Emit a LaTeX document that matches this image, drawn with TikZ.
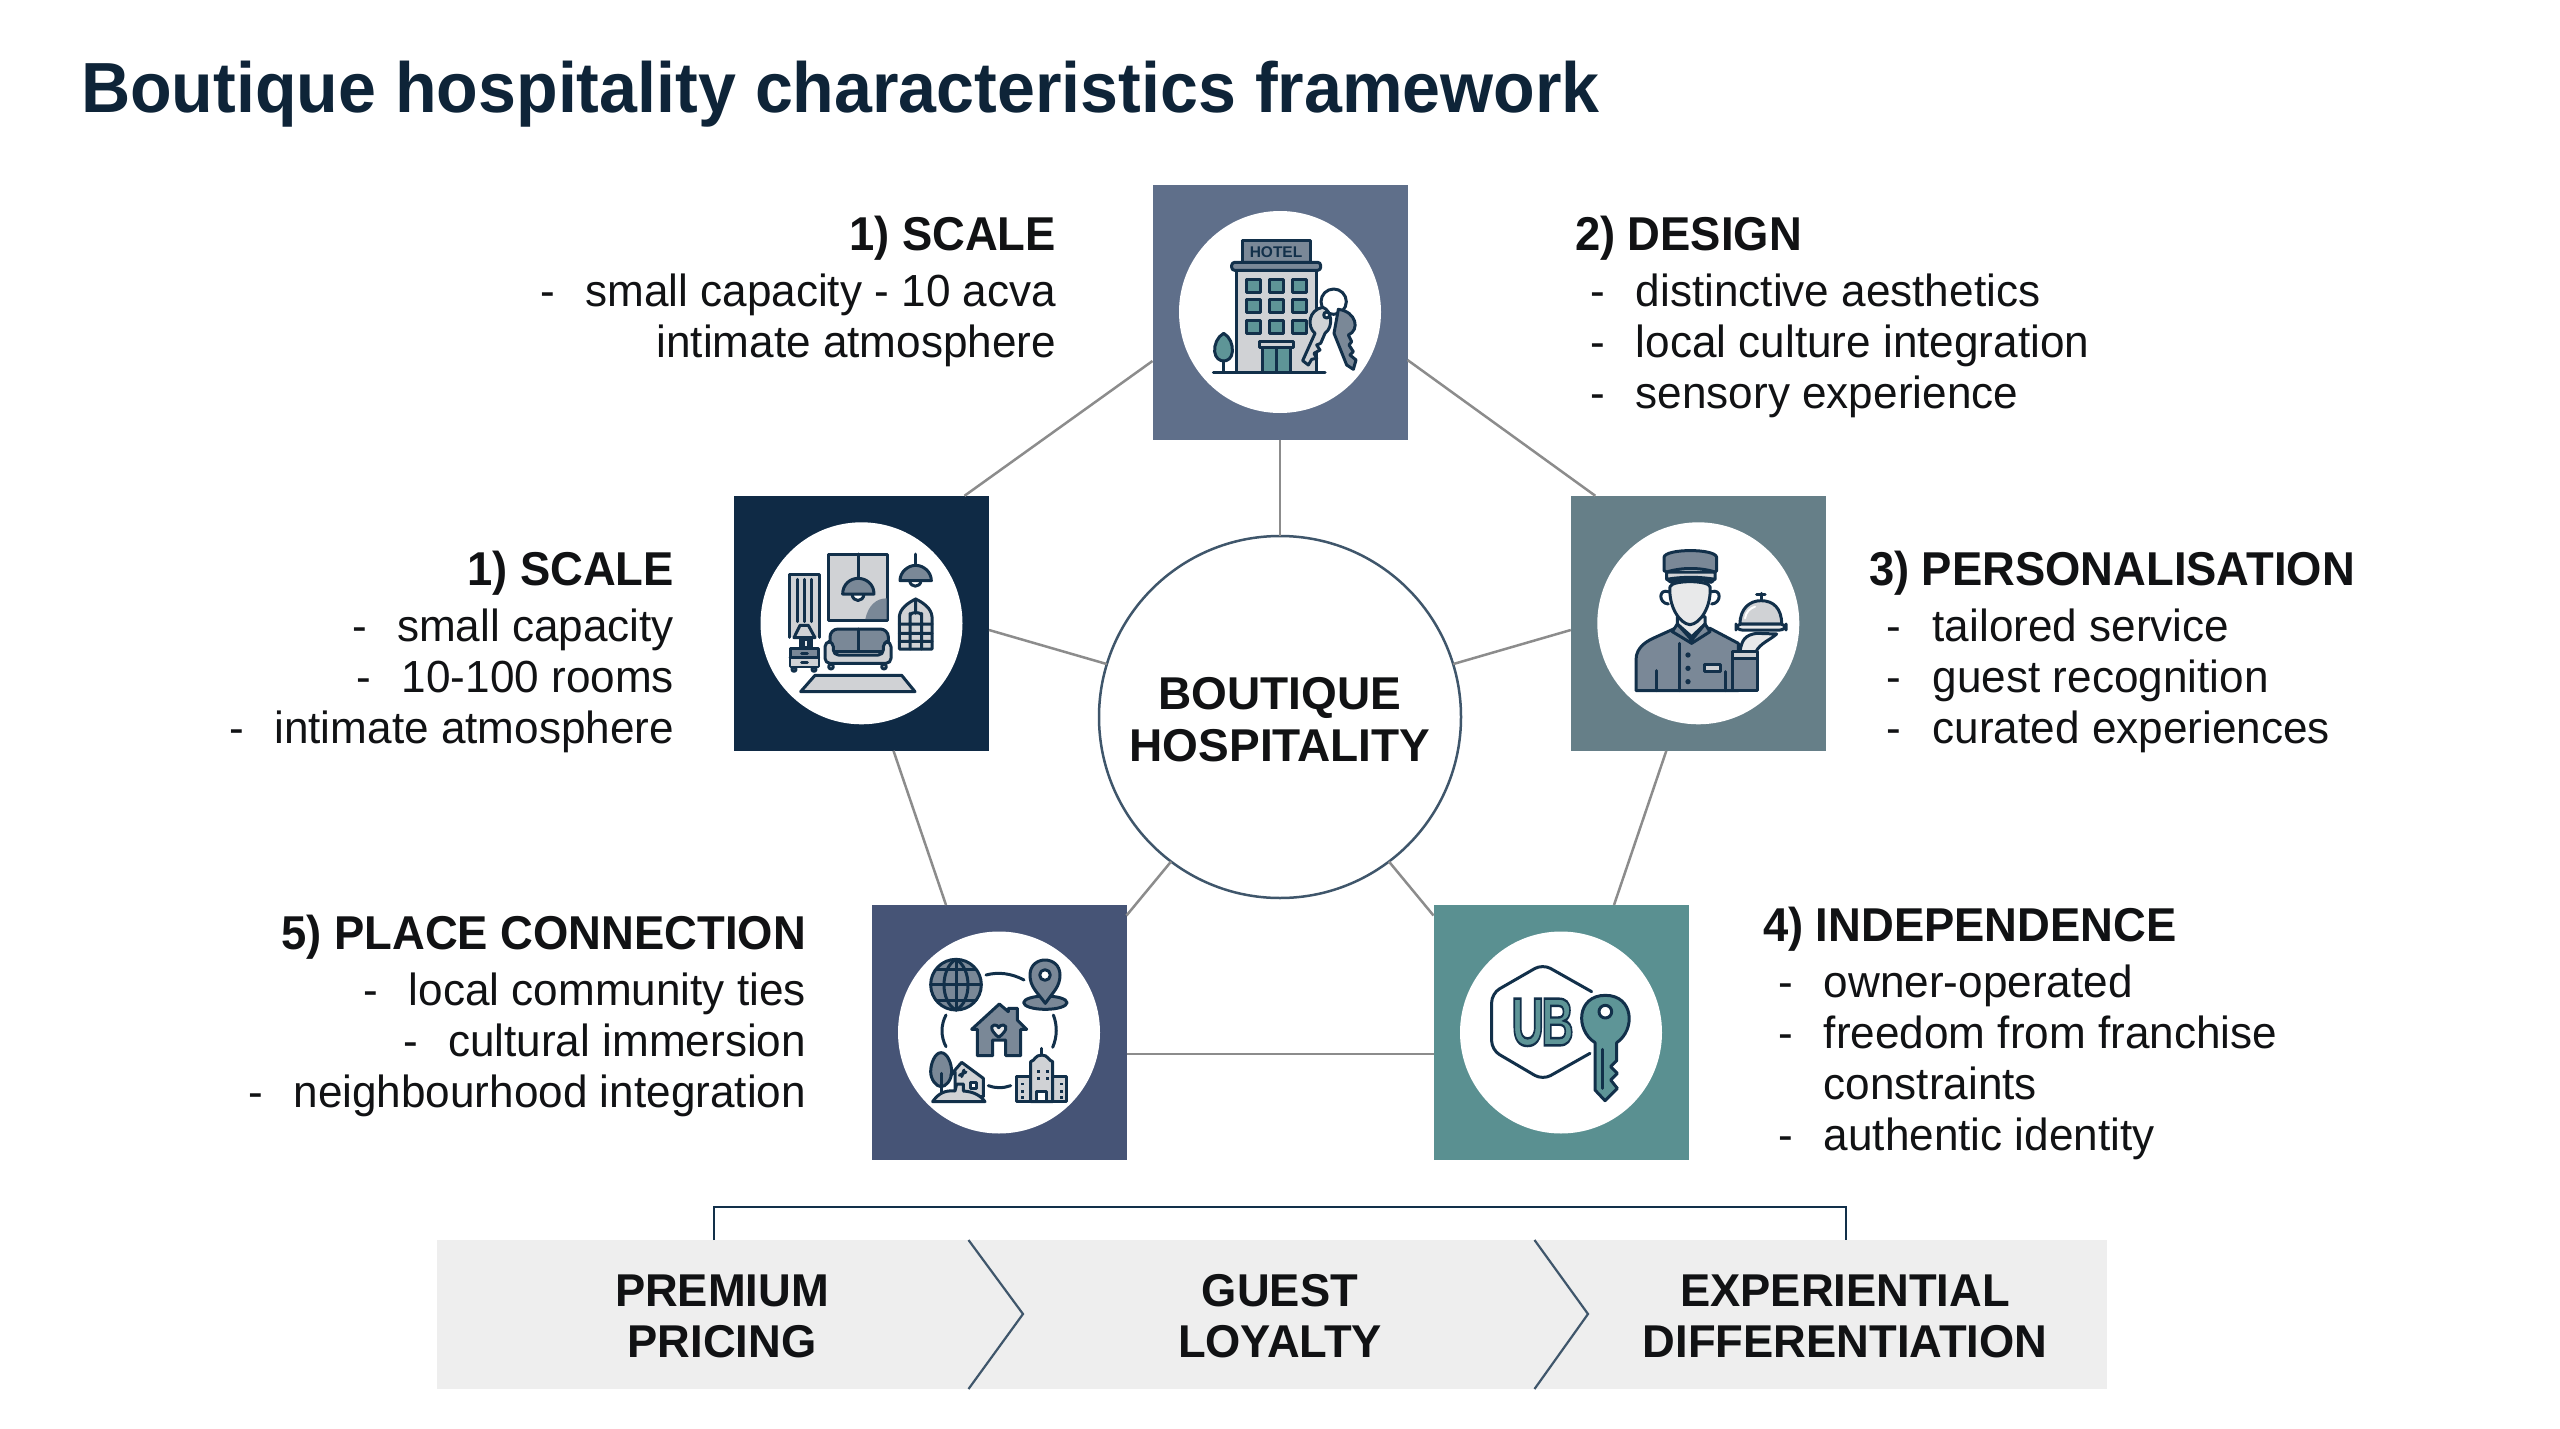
\documentclass[tikz,border=0pt]{standalone}
\usepackage{graphicx}
\usepackage{fontspec}
\setmainfont{Liberation Sans}
\definecolor{navy}{HTML}{0E2438}
\definecolor{inktext}{HTML}{111214}
\definecolor{icdark}{HTML}{12304A}
\definecolor{icslate}{HTML}{7A8897}
\definecolor{icgrey}{HTML}{D0D2D5}
\definecolor{icteal}{HTML}{5E9597}
\definecolor{icpale}{HTML}{E8E9EA}
\definecolor{linkgrey}{HTML}{8C8C8C}
\definecolor{hubline}{HTML}{3F566B}
\definecolor{stripbg}{HTML}{EEEEEE}
\definecolor{sqscale}{HTML}{5F6F8A}
\definecolor{sqroom}{HTML}{0F2A45}
\definecolor{sqperson}{HTML}{667F88}
\definecolor{sqplace}{HTML}{465476}
\definecolor{sqindep}{HTML}{5A9091}
\newcommand{\rdash}{\makebox[62pt][l]{\hspace{16pt}-}}
\newcommand{\pdash}{\makebox[65pt][l]{\hspace{18pt}-}}
\newcommand{\ldash}{-\hspace{31pt}}
\tikzset{
  pillar/.style={rectangle,inner sep=0,outer sep=0,minimum size=255pt,fill=#1},
  disc/.style={circle,inner sep=0,outer sep=0,minimum size=202pt,fill=white},
  hubnode/.style={circle,inner sep=0,outer sep=0,minimum size=362pt,fill=white,draw=hubline,line width=2.5pt,
    align=center,text=inktext,font=\fontsize{46}{52}\selectfont\bfseries},
  link/.style={draw=linkgrey,line width=2.5pt},
  blockr/.style={inner sep=0,outer sep=0,align=right,anchor=north east,xscale=0.98,text=inktext,font=\fontsize{45}{51}\selectfont},
  blockl/.style={inner sep=0,outer sep=0,align=left,anchor=north west,xscale=0.98,text=inktext,font=\fontsize{45}{51}\selectfont},
  striplabel/.style={inner sep=0,outer sep=0,align=center,xscale=0.985,text=inktext,font=\fontsize{46}{51}\selectfont\bfseries},
  ic/.style={draw=icdark,line width=3pt,line join=round,line cap=round},
  crop/.style={x=0.33333pt,y=-0.33333pt},
}
\newcommand{\hd}[1]{\scalebox{0.975}[1]{\fontsize{47.5}{51}\selectfont\bfseries #1}}
\begin{document}
\begin{tikzpicture}[x=1pt,y=-1pt]
\useasboundingbox[fill=white] (0,0) rectangle (2560,1429);

\node[inner sep=0,outer sep=0,anchor=base west,xscale=0.96,text=navy,font=\fontsize{71}{80}\selectfont\bfseries] (title) at (81,113) {Boutique hospitality characteristics framework};

% pillars and the central hub
\node[pillar=sqscale] (top) at (1280,312) {};
\node[pillar=sqroom] (left) at (861.5,623.3) {};
\node[pillar=sqperson] (right) at (1698.3,623.3) {};
\node[pillar=sqplace] (place) at (999,1032.5) {};
\node[pillar=sqindep] (indep) at (1561,1032.5) {};
\node[hubnode] (hub) at (1280,717) {\rule{0pt}{37pt}BOUTIQUE\\HOSPITALITY};

% ring around the hub and spokes into it
\draw[link] ([yshift=-49pt]top.west) -- ([xshift=103pt]left.north);
\draw[link] ([yshift=-48pt]top.east) -- ([xshift=-103pt]right.north);
\draw[link] ([xshift=32pt]left.south) -- ([xshift=-53pt]place.north);
\draw[link] ([xshift=-32pt]right.south) -- ([xshift=53pt]indep.north);
\draw[link] ([yshift=-21.5pt]place.east) -- ([yshift=-21.5pt]indep.west);
\draw[link] (top.south) -- (hub.north);
\draw[link] ([yshift=-6.7pt]left.east) -- (hub.163);
\draw[link] ([yshift=-6.7pt]right.west) -- (hub.17);
\draw[link] ([yshift=117pt]place.east) -- (hub.233);
\draw[link] ([yshift=117pt]indep.west) -- (hub.307);

% white discs inside the pillars
\node[disc] (topdisc) at (top.center) {};
\node[disc] (leftdisc) at (left.center) {};
\node[disc] (rightdisc) at (right.center) {};
\node[disc] (placedisc) at (place.center) {};
\node[disc] (indepdisc) at (indep.center) {};

% hotel with keys
\begin{scope}[shift={(1130,170)},crop]
  \draw[ic] (250,606) -- (585,606);
  \draw[ic,fill=icteal] (281,490) .. controls (262,500) and (252,525) .. (254,545) .. controls (256,565) and (270,573) .. (281,573) .. controls (292,573) and (306,565) .. (307,545) .. controls (309,525) and (300,500) .. (281,490) -- cycle;
  \draw[ic] (281,573) -- (281,606);
  \draw[ic,fill=icslate] (337,211) rectangle (540,276);
  \draw[ic,fill=icgrey] (318,300) rectangle (560,606);
  \draw[ic,fill=icslate,rounded corners=3pt] (305,277) rectangle (572,301);
  \foreach \wy in {327,388,451} \foreach \wx in {348,418,488}
    \draw[ic,fill=icteal] (\wx,\wy) rectangle ++(42,40);
  \draw[ic,fill=icteal] (396,533) rectangle (482,606);
  \draw[ic] (438,533) -- (438,606);
  \draw[ic,fill=icgrey] (388,515) rectangle (490,533);
  \draw[ic] (611,395) circle [radius=38];
  \draw[ic,fill=icslate] (625,418) .. controls (680,425) and (690,480) .. (655,495) -- (665,515) -- (657,525) -- (670,545) -- (660,555) -- (678,570) -- (670,598) -- (650,585) -- (612,490) -- cycle;
  \draw[ic,fill=icgrey] (578,412) .. controls (605,420) and (612,470) .. (585,490) -- (572,520) -- (560,525) -- (570,540) -- (552,550) -- (560,565) -- (545,568) -- (535,585) -- (518,572) -- (555,490) .. controls (530,470) and (535,420) .. (578,412) -- cycle;
  \draw[ic,fill=white] (590,435) circle [radius=9];
  \node[inner sep=0,outer sep=0,text=icdark,font=\fontsize{15.5}{16}\selectfont\bfseries] (hotelsign) at (438,246) {HOTEL};
\end{scope}

% furnished room
\begin{scope}[shift={(720,480)},crop]
  \draw[ic,fill=icgrey] (209,472) -- (209,282) -- (297,282) -- (297,472);
  \foreach \cx in {231,252,275} \draw[ic] (\cx,298) -- (\cx,425);
  \draw[ic,fill=icgrey] (326,222) rectangle (502,420);
  \fill[icslate] (436,417) .. controls (445,375) and (470,355) .. (500,355) -- (500,417) -- cycle;
  \draw[ic] (414,222) -- (414,295);
  \draw[ic,fill=white] (396,342) .. controls (398,368) and (430,368) .. (432,342);
  \draw[ic,fill=icslate] (368,342) .. controls (368,312) and (392,295) .. (414,295) .. controls (438,295) and (462,312) .. (462,342) -- cycle;
  \draw[ic] (587,222) -- (587,256);
  \draw[ic,fill=white] (569,302) .. controls (571,324) and (601,324) .. (603,302);
  \draw[ic,fill=icslate] (540,302) .. controls (540,275) and (565,256) .. (587,256) .. controls (610,256) and (634,275) .. (634,302) -- cycle;
  \draw[ic,fill=icgrey] (538,507) -- (538,410) .. controls (540,385) and (565,368) .. (587,357) .. controls (610,368) and (634,385) .. (636,410) -- (636,507) -- cycle;
  \draw[ic] (538,432) -- (636,432) (538,460) -- (636,460) (538,484) -- (636,484) (570,400) -- (570,507) (605,400) -- (605,507) (587,357) -- (587,400) (570,405) .. controls (575,395) and (600,395) .. (605,405);
  \draw[ic,fill=icslate] (240,475) -- (275,475) -- (275,503) -- (240,503) -- cycle;
  \draw[ic,fill=icgrey] (240,436) -- (265,436) -- (285,473) -- (222,473) -- cycle;
  \draw[ic,fill=icpale] (251,478) rectangle (264,503);
  \draw[ic,fill=white] (222,568) circle [radius=6] (282,568) circle [radius=6];
  \draw[ic,fill=icslate] (210,505) rectangle (296,560);
  \fill[icgrey] (212,535) rectangle (294,558);
  \draw[ic] (210,533) -- (296,533) (245,520) -- (262,520) (245,546) -- (262,546);
  \draw[ic,fill=white] (333,560) circle [radius=7] (492,560) circle [radius=7];
  \draw[ic,fill=icslate,rounded corners=8pt] (330,525) -- (330,447) -- (505,447) -- (505,525) -- cycle;
  \draw[ic] (414,447) -- (414,525);
  \draw[ic,fill=icgrey] (340,513) rectangle (490,525);
  \draw[ic,fill=icgrey,rounded corners=5pt] (315,485) -- (340,485) -- (340,525) -- (490,525) -- (490,485) -- (513,485) -- (513,550) -- (315,550) -- cycle;
  \draw[ic,fill=icgrey] (242,635) -- (285,586) -- (545,586) -- (585,635) -- cycle;
\end{scope}

% porter with a cloche
\begin{scope}[shift={(1560,480)},crop]
  \draw[ic,fill=icslate] (228,632) -- (228,540) .. controls (228,500) and (262,482) .. (290,470) -- (345,445) -- (450,445) -- (535,490) -- (535,632) -- cycle;
  \draw[ic,fill=icpale] (352,432) -- (395,470) -- (435,432) -- (435,410) -- (352,410) -- cycle;
  \draw[ic,fill=icslate] (337,455) -- (352,432) -- (395,480) -- (435,432) -- (450,455) -- (395,490) -- cycle;
  \draw[ic] (395,480) -- (395,490) (357,490) -- (357,632);
  \draw[ic] (288,572) -- (288,632) (495,575) -- (495,632);
  \fill[icdark] (384,525) circle [radius=8] (384,565) circle [radius=8] (384,605) circle [radius=8];
  \draw[ic,fill=icgrey] (432,553) rectangle (480,573);
  \draw[ic,fill=white] (325,335) .. controls (295,325) and (295,370) .. (325,372);
  \draw[ic,fill=white] (455,335) .. controls (485,325) and (485,370) .. (455,372);
  \draw[ic,fill=icpale] (330,320) .. controls (325,380) and (360,432) .. (390,434) .. controls (420,432) and (455,380) .. (450,320) .. controls (445,300) and (335,300) .. (330,320) -- cycle;
  \draw[ic,fill=icslate] (322,298) .. controls (340,318) and (350,300) .. (350,300) -- (430,300) .. controls (440,300) and (450,318) .. (462,298) -- cycle;
  \draw[ic,fill=icgrey] (320,276) -- (465,276) -- (465,298) .. controls (420,290) and (365,290) .. (320,298) -- cycle;
  \draw[ic,fill=icslate] (320,276) -- (312,272) -- (312,232) .. controls (315,205) and (467,205) .. (470,232) -- (470,272) -- (465,276) .. controls (420,262) and (365,262) .. (320,276) -- cycle;
  \draw[ic,fill=icpale] (540,515) .. controls (545,480) and (555,465) .. (590,460) -- (650,462) .. controls (630,480) and (600,490) .. (588,515) -- cycle;
  \draw[ic,fill=icslate] (518,535) rectangle (592,632);
  \draw[ic,fill=icgrey] (518,515) rectangle (592,535);
  \draw[ic] (603,340) -- (603,362) (590,342) -- (615,342);
  \draw[ic,fill=icgrey] (540,432) .. controls (540,385) and (570,362) .. (603,362) .. controls (640,362) and (665,385) .. (665,432) -- cycle;
  \draw[ic,fill=icpale,rounded corners=6pt] (528,432) rectangle (678,450);
  \draw[draw=white,line width=2pt,line cap=round] (555,415) .. controls (558,395) and (570,385) .. (585,380);
\end{scope}

% place and community
\begin{scope}[shift={(860,890)},crop]
  \draw[ic,fill=icslate] (288,284) circle [radius=76];
  \draw[ic] (288,208) -- (288,360) (212,284) -- (364,284) (228,238) -- (348,238) (228,330) -- (348,330);
  \draw[ic] (288,208) .. controls (240,235) and (240,335) .. (288,360) .. controls (336,335) and (336,235) .. (288,208);
  \draw[ic,fill=icslate] (556,338) ellipse [x radius=65,y radius=20];
  \draw[ic,fill=icslate] (556,340) .. controls (530,305) and (510,290) .. (510,255) .. controls (510,195) and (600,195) .. (600,255) .. controls (600,290) and (580,305) .. (556,340) -- cycle;
  \draw[ic,fill=white] (555,255) circle [radius=16];
  \draw[ic] (378,255) .. controls (415,245) and (455,250) .. (492,270);
  \draw[ic] (580,375) .. controls (592,405) and (592,440) .. (578,472);
  \draw[ic] (385,587) .. controls (405,595) and (430,595) .. (452,587);
  \draw[ic] (258,375) .. controls (242,405) and (242,440) .. (258,470);
  \draw[ic,fill=icslate] (335,418) -- (418,342) -- (445,365) -- (445,355) -- (472,355) -- (472,390) -- (500,418) -- (482,418) -- (482,497) -- (437,497) -- (437,450) -- (398,450) -- (398,497) -- (352,497) -- (352,418) -- cycle;
  \draw[ic,fill=icpale] (416,442) .. controls (395,425) and (388,408) .. (403,405) .. controls (410,404) and (414,408) .. (416,413) .. controls (418,408) and (424,404) .. (430,405) .. controls (445,408) and (438,425) .. (416,442) -- cycle;
  \draw[ic,fill=icslate] (243,488) .. controls (225,488) and (212,520) .. (212,545) .. controls (212,570) and (230,590) .. (243,590) .. controls (258,590) and (275,570) .. (275,545) .. controls (275,520) and (262,488) .. (243,488) -- cycle;
  \draw[ic] (243,550) -- (243,615);
  \draw[ic,fill=icgrey] (285,600) -- (285,545) -- (272,555) -- (305,517) -- (370,565) -- (370,620) -- (330,620) -- cycle;
  \draw[ic,fill=white] (332,576) rectangle (350,594);
  \draw[ic] (298,556) -- (318,546) (305,560) -- (312,540);
  \draw[ic,fill=icgrey] (218,635) .. controls (235,610) and (255,600) .. (285,603) -- (290,582) -- (310,582) -- (310,603) .. controls (340,605) and (360,615) .. (375,635) -- cycle;
  \draw[ic,fill=icgrey] (470,560) rectangle (512,635);
  \draw[ic,fill=icgrey] (578,560) rectangle (620,635);
  \draw[ic,fill=icgrey] (512,515) .. controls (525,512) and (525,495) .. (545,495) .. controls (565,495) and (565,512) .. (578,515) -- (578,635) -- (512,635) -- cycle;
  \draw[ic] (545,475) -- (545,495);
  \draw[ic,fill=white] (530,605) rectangle (560,635);
  \foreach \gx/\gy in {530/540,558/540,530/562,558/562,484/578,484/600,484/618,600/578,600/600,600/618}
    \fill[icdark] (\gx,\gy) rectangle ++(9,8);
\end{scope}

% independent brand mark and key
\begin{scope}[shift={(1420,890)},crop]
  \draw[ic,rounded corners=9pt] (515,305) -- (368,222) -- (215,310) -- (215,480) -- (368,570) -- (510,490);
  \node[inner sep=0,outer sep=0,text=icteal,xscale=0.66,font=\fontsize{68}{68}\selectfont\bfseries] (ubmark) at (368,397) {\special{pdf:code 2 Tr 2.4 w 0.07 0.19 0.29 RG}U\kern-4pt B\special{pdf:code 0 Tr}};
  \draw[ic,fill=icteal] (525,458) .. controls (465,420) and (470,316) .. (556,316) .. controls (642,316) and (647,420) .. (590,458) -- (590,512) -- (572,530) -- (592,550) -- (572,570) -- (592,595) -- (555,632) -- (525,600) -- cycle;
  \draw[ic,fill=white] (556,365) circle [radius=19];
  \draw[ic] (548,478) -- (548,595);
\end{scope}

% characteristic blocks
\node[blockr] (scaleA) at (1056,216) {\hd{1) SCALE}\\[5pt]\ldash small capacity - 10 acva\\intimate atmosphere};
\node[blockl] (design) at (1575,216) {\hd{2) DESIGN}\\[5pt]\rdash distinctive aesthetics\\\rdash local culture integration\\\rdash sensory experience};
\node[blockr] (scaleB) at (674,551) {\hd{1) SCALE}\\[5pt]\ldash small capacity\\\ldash 10-100 rooms\\\ldash intimate atmosphere};
\node[blockl] (person) at (1869,551) {\hd{3) PERSONALISATION}\\[5pt]\pdash tailored service\\\pdash guest recognition\\\pdash curated experiences};
\node[blockr] (placetext) at (806,915) {\hd{5) PLACE CONNECTION}\\[5pt]\ldash local community ties\\\ldash cultural immersion\\\ldash neighbourhood integration};
\node[blockl] (indeptext) at (1763,907) {\hd{4) INDEPENDENCE}\\[5pt]\rdash owner-operated\\\rdash freedom from franchise\\\hspace*{62pt}constraints\\\rdash authentic identity};

% outcome band
\node[inner sep=0,outer sep=0,fill=stripbg,minimum width=1670.5pt,minimum height=149pt] (strip) at (1271.75,1314.5) {};
\coordinate (chevA) at (968.5,1240);
\coordinate (chevAtip) at (1023,1314);
\coordinate (chevAend) at (968.5,1389);
\coordinate (chevB) at (1534.5,1240);
\coordinate (chevBtip) at (1588,1314);
\coordinate (chevBend) at (1534.5,1389);
\draw[draw=hubline,line width=2.2pt] (chevA) -- (chevAtip) -- (chevAend);
\draw[draw=hubline,line width=2.2pt] (chevB) -- (chevBtip) -- (chevBend);
\node[striplabel] (pricing) at (722,1316) {PREMIUM\\PRICING};
\node[striplabel] (loyalty) at (1280,1316) {GUEST\\LOYALTY};
\node[striplabel] (differ) at (1845,1316) {EXPERIENTIAL\\DIFFERENTIATION};
\coordinate (brackA) at (714,1240);
\coordinate (brackB) at (1846,1240);
\draw[draw=icdark,line width=2.6pt] (brackA) -- ++(0,-33) -| (brackB);
\end{tikzpicture}
\end{document}
